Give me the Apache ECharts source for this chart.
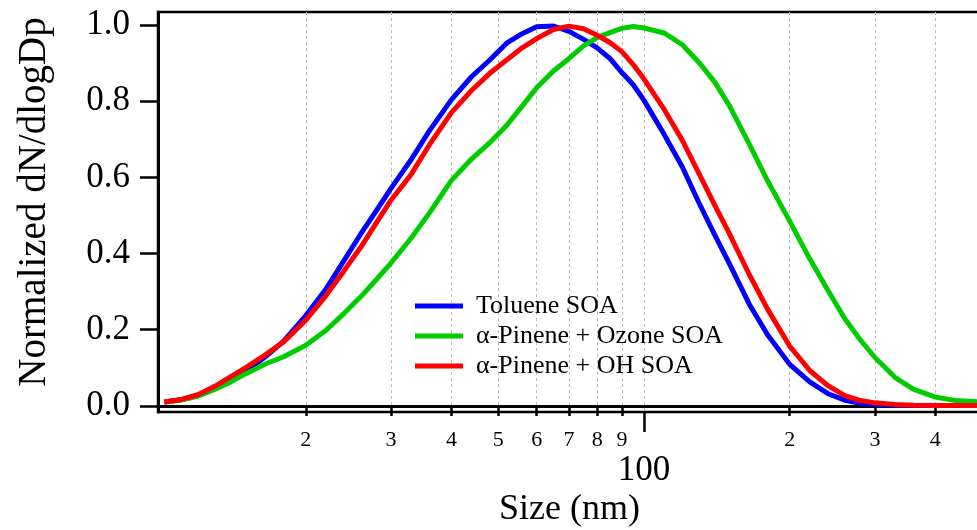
<!DOCTYPE html>
<html>
<head>
<meta charset="utf-8">
<script src="https://cdn.jsdelivr.net/npm/echarts@6/dist/echarts.min.js"></script>
<style>
html, body { margin: 0; padding: 0; background: #fff; }
#main { width: 977px; height: 530px; }
</style>
</head>
<body>
<div id="main"></div>
<script>
// particle size bins (nm)
var sizes = [10.2, 11, 12, 13, 14, 15, 16.5, 18, 20, 22, 24, 26, 28, 30, 33, 36, 40, 44, 48, 52,
  56, 60, 65, 70, 75, 80, 85, 90, 95, 100, 110, 120, 130, 140, 150, 165, 180, 200, 220, 240,
  260, 280, 300, 330, 360, 400, 440, 490];
var toluene = [0.010, 0.016, 0.028, 0.046, 0.068, 0.090, 0.129, 0.170, 0.237, 0.306, 0.382, 0.452,
  0.513, 0.571, 0.646, 0.722, 0.804, 0.864, 0.908, 0.952, 0.977, 0.995, 0.997, 0.983, 0.962, 0.940,
  0.912, 0.875, 0.843, 0.802, 0.713, 0.627, 0.532, 0.449, 0.374, 0.267, 0.187, 0.109, 0.063, 0.032,
  0.015, 0.007, 0.004, 0.002, 0.001, 0.001, 0.001, 0.001];
var pineneOzone = [0.010, 0.015, 0.026, 0.044, 0.063, 0.084, 0.110, 0.129, 0.159, 0.198, 0.243, 0.287,
  0.332, 0.375, 0.440, 0.506, 0.592, 0.648, 0.691, 0.736, 0.787, 0.835, 0.879, 0.912, 0.945, 0.967,
  0.980, 0.991, 0.996, 0.992, 0.979, 0.948, 0.901, 0.850, 0.789, 0.687, 0.591, 0.485, 0.386, 0.303,
  0.229, 0.173, 0.127, 0.075, 0.044, 0.023, 0.014, 0.011];
var pineneOH = [0.010, 0.016, 0.030, 0.052, 0.077, 0.100, 0.134, 0.168, 0.225, 0.289, 0.355, 0.417,
  0.481, 0.540, 0.607, 0.685, 0.770, 0.828, 0.873, 0.908, 0.940, 0.964, 0.988, 0.997, 0.990, 0.973,
  0.954, 0.930, 0.896, 0.858, 0.779, 0.697, 0.609, 0.527, 0.453, 0.345, 0.254, 0.157, 0.093, 0.053,
  0.027, 0.014, 0.008, 0.004, 0.002, 0.001, 0.001, 0.001];
var seriesNames = ['Toluene SOA', 'α-Pinene + Ozone SOA', 'α-Pinene + OH SOA'];
var seriesColors = ['#0000ff', '#00cc00', '#ff0000'];
var minorTicks = [20, 30, 40, 50, 60, 70, 80, 90, 200, 300, 400];
var majorTicks = [100];
var yTicks = [0, 0.2, 0.4, 0.6, 0.8, 1.0];

var font = 'Liberation Serif';
var chart = echarts.init(document.getElementById('main'), null, {renderer: 'canvas'});

function pairs(vals) {
  return sizes.map(function (s, i) { return [s, vals[i]]; });
}

var gridLine = {show: true, lineStyle: {color: '#bbbbbb', width: 1, type: [3, 3]}};

var option = {
  animation: false,
  grid: {left: 158, top: 12, right: -4, bottom: 118, show: true, borderColor: '#000', borderWidth: 2.5,
    containLabel: false, outerBoundsMode: 'none'},
  legend: {
    orient: 'vertical', left: 415, top: 293, padding: 0, itemWidth: 48, itemHeight: 5, itemGap: 4,
    icon: 'rect',
    textStyle: {fontFamily: font, fontSize: 26, color: '#000', padding: [0, 0, 0, 8]},
    data: seriesNames
  },
  xAxis: [{
    type: 'log', min: 9.9, max: 497,
    name: 'Size (nm)', nameLocation: 'middle', nameGap: 80,
    nameTextStyle: {fontFamily: font, fontSize: 36, color: '#000'},
    axisLine: {show: true, lineStyle: {color: '#000', width: 3}},
    axisTick: {show: true, inside: false, length: 10, customValues: minorTicks,
      lineStyle: {color: '#000', width: 2.5}},
    axisLabel: {customValues: minorTicks, margin: 17, fontFamily: font, fontSize: 22, color: '#000',
      formatter: function (v) {
        return String(Math.round(v / Math.pow(10, Math.floor(Math.log10(v) + 1e-9))));
      }},
    splitLine: gridLine,
    minorTick: {show: false}
  }, {
    type: 'log', min: 9.9, max: 497, position: 'bottom',
    axisLine: {show: false},
    axisTick: {show: true, inside: false, length: 20, customValues: majorTicks,
      lineStyle: {color: '#000', width: 2.5}},
    axisLabel: {customValues: majorTicks, margin: 41, fontFamily: font, fontSize: 35, color: '#000'},
    splitLine: gridLine
  }],
  yAxis: {
    type: 'value', min: -0.016, max: 1.034,
    name: 'Normalized dN/dlogDp', nameLocation: 'middle', nameGap: 104,
    nameTextStyle: {fontFamily: font, fontSize: 39, color: '#000', padding: [0, 0, 0, 20]},
    axisLine: {show: true, lineStyle: {color: '#000', width: 3}},
    axisTick: {show: true, length: 18, customValues: yTicks, lineStyle: {color: '#000', width: 2.5}},
    axisLabel: {customValues: yTicks, margin: 28, fontFamily: font, fontSize: 35, color: '#000',
      formatter: function (v) { return v.toFixed(1); }},
    splitLine: {show: false}
  },
  series: [toluene, pineneOzone, pineneOH].map(function (vals, i) {
    return {
      name: seriesNames[i], type: 'line', xAxisIndex: 0, data: pairs(vals),
      showSymbol: false, symbol: 'none',
      lineStyle: {color: seriesColors[i], width: 5},
      itemStyle: {color: seriesColors[i]}
    };
  })
};
chart.setOption(option);
</script>
</body>
</html>
